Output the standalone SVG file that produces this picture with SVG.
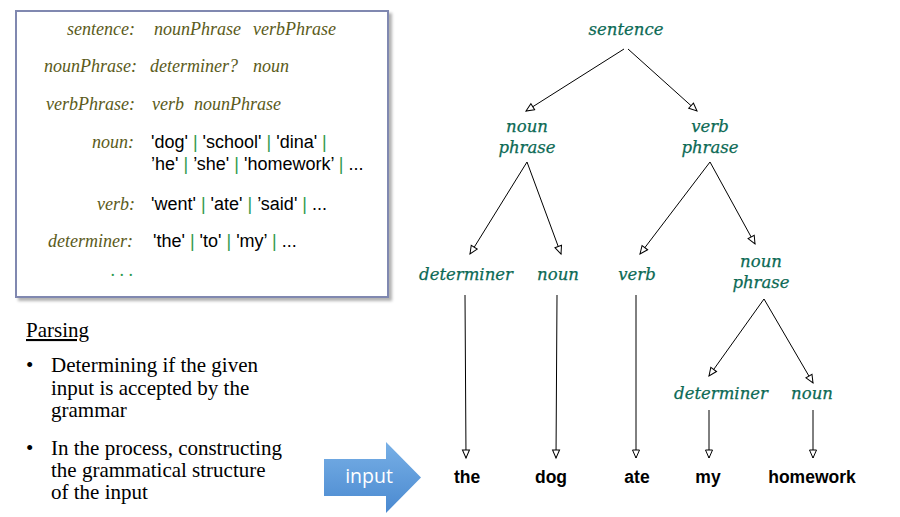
<svg xmlns="http://www.w3.org/2000/svg" width="900" height="517" viewBox="0 0 900 517">
<style>
.lbl{font-family:"Liberation Serif","Times New Roman",serif;font-style:italic;font-size:18px;fill:#5b5b20}
.rhs{font-family:"Liberation Serif","Times New Roman",serif;font-style:italic;font-size:18px;fill:#5b5b20}
.lit{font-family:"Liberation Sans",Arial,sans-serif;font-size:18px;fill:#000}
.p{fill:#2f9a4e}
.dots{font-family:"Liberation Serif",serif;font-size:18px;fill:#2f9a4e}
.body{font-family:"Liberation Serif","Times New Roman",serif;font-size:21px;fill:#000}
.node{font-family:"DejaVu Serif",serif;font-style:italic;font-size:16.5px;fill:#0c6a55;stroke:#0c6a55;stroke-width:0.25;text-anchor:middle}
.word{font-family:"Liberation Sans",Arial,sans-serif;font-weight:bold;font-size:17.5px;fill:#000;text-anchor:middle}
.edge{stroke:#000;stroke-width:1;fill:none;marker-end:url(#ah)}
</style>
<defs>
<marker id="ah" markerUnits="userSpaceOnUse" markerWidth="12" markerHeight="10" refX="9" refY="4" orient="auto" overflow="visible">
<path d="M1,0.5 L9,4 L1,7.5 Z" fill="#fff" stroke="#000" stroke-width="1"/>
</marker>
<linearGradient id="blue" x1="0" y1="0" x2="0" y2="1">
<stop offset="0" stop-color="#78b0e6"/>
<stop offset="1" stop-color="#4a89d0"/>
</linearGradient>
<filter id="sh" x="-5%" y="-5%" width="115%" height="115%">
<feDropShadow dx="3" dy="3" stdDeviation="1.5" flood-color="#000" flood-opacity="0.3"/>
</filter>
</defs>

<g id="grammar">
<rect x="16" y="11" width="372" height="286" fill="#fff" stroke="#8088b0" stroke-width="2" filter="url(#sh)"/>
<text class="lbl" x="135" y="35" text-anchor="end">sentence:</text>
<text class="rhs" y="35"><tspan x="154">nounPhrase</tspan><tspan x="253">verbPhrase</tspan></text>
<text class="lbl" x="137" y="72" text-anchor="end">nounPhrase:</text>
<text class="rhs" y="72"><tspan x="150">determiner?</tspan><tspan x="253">noun</tspan></text>
<text class="lbl" x="135" y="110" text-anchor="end">verbPhrase:</text>
<text class="rhs" y="110"><tspan x="152">verb</tspan><tspan x="194">nounPhrase</tspan></text>
<text class="lbl" x="134" y="148" text-anchor="end">noun:</text>
<text class="lit" x="151" y="148">'dog' <tspan class="p">|</tspan> 'school' <tspan class="p">|</tspan> 'dina' <tspan class="p">|</tspan></text>
<text class="lit" x="151" y="170">’he' <tspan class="p">|</tspan> ’she' <tspan class="p">|</tspan> 'homework’ <tspan class="p">|</tspan> ...</text>
<text class="lbl" x="135" y="210" text-anchor="end">verb:</text>
<text class="lit" x="151" y="210">'went' <tspan class="p">|</tspan> 'ate' <tspan class="p">|</tspan> ’said' <tspan class="p">|</tspan> ...</text>
<text class="lbl" x="133" y="247" text-anchor="end">determiner:</text>
<text class="lit" x="153" y="247">'the' <tspan class="p">|</tspan> 'to' <tspan class="p">|</tspan> 'my’ <tspan class="p">|</tspan> ...</text>
<text class="dots" x="133" y="276" text-anchor="end">. . .</text>
</g>

<g id="parsing">
<text class="body" x="26" y="337" text-decoration="underline">Parsing</text>
<text class="body" x="26" y="372">•</text>
<text class="body" x="51" y="372">Determining if the given</text>
<text class="body" x="51" y="395">input is accepted by the</text>
<text class="body" x="51" y="417">grammar</text>
<text class="body" x="26" y="455">•</text>
<text class="body" x="51" y="455">In the process, constructing</text>
<text class="body" x="51" y="477">the grammatical structure</text>
<text class="body" x="51" y="499">of the input</text>
</g>

<g id="input-arrow">
<polygon points="324,459 386,459 386,442 421,477.5 386,513 386,496 324,496" fill="url(#blue)"/>
<text x="369" y="483" text-anchor="middle" font-family="'Open Sans',Lato,sans-serif" font-size="19.5" fill="#fff">input</text>
</g>

<g id="connectors">
<line class="edge" x1="624" y1="49" x2="526" y2="111"/>
<line class="edge" x1="628" y1="49" x2="697" y2="111"/>
<line class="edge" x1="527" y1="162" x2="470" y2="254"/>
<line class="edge" x1="527" y1="162" x2="561" y2="254"/>
<line class="edge" x1="710" y1="162" x2="640" y2="254"/>
<line class="edge" x1="710" y1="162" x2="755" y2="244"/>
<line class="edge" x1="465" y1="295" x2="466" y2="458"/>
<line class="edge" x1="557" y1="295" x2="556" y2="458"/>
<line class="edge" x1="636" y1="295" x2="636" y2="458"/>
<line class="edge" x1="764" y1="299" x2="709" y2="376"/>
<line class="edge" x1="764" y1="299" x2="813" y2="383"/>
<line class="edge" x1="709" y1="410" x2="709" y2="458"/>
<line class="edge" x1="813" y1="410" x2="813" y2="458"/>
</g>

<g id="n-sentence"><text class="node" x="626" y="35">sentence</text></g>
<g id="n-nounphrase1"><text class="node" x="527" y="132">noun</text><text class="node" x="527" y="153">phrase</text></g>
<g id="n-verbphrase"><text class="node" x="710" y="132">verb</text><text class="node" x="710" y="153">phrase</text></g>
<g id="n-determiner1"><text class="node" x="466" y="280">determiner</text></g>
<g id="n-noun1"><text class="node" x="558" y="280">noun</text></g>
<g id="n-verb"><text class="node" x="637" y="280">verb</text></g>
<g id="n-nounphrase2"><text class="node" x="761" y="267">noun</text><text class="node" x="761" y="288">phrase</text></g>
<g id="n-determiner2"><text class="node" x="721" y="399">determiner</text></g>
<g id="n-noun2"><text class="node" x="812" y="399">noun</text></g>
<g id="w-the"><text class="word" x="467" y="483">the</text></g>
<g id="w-dog"><text class="word" x="551" y="483">dog</text></g>
<g id="w-ate"><text class="word" x="637" y="483">ate</text></g>
<g id="w-my"><text class="word" x="708" y="483">my</text></g>
<g id="w-homework"><text class="word" x="812" y="483">homework</text></g>
</svg>
